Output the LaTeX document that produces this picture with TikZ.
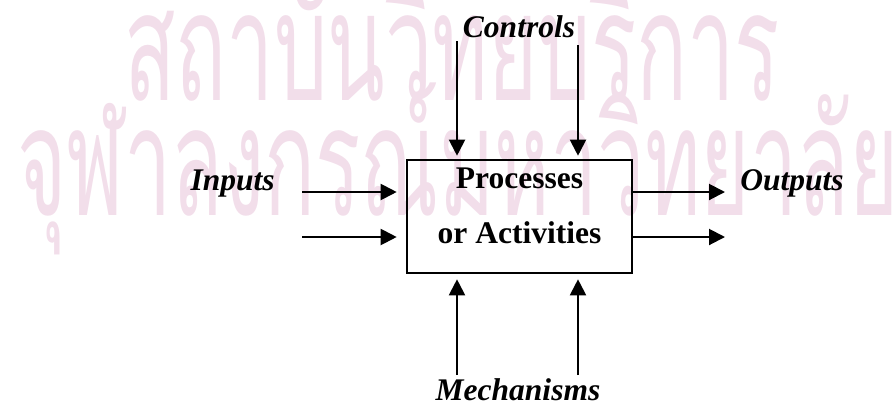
\documentclass[tikz,border=0pt]{standalone}
\usepackage{fontspec}
\setmainfont{Liberation Serif}
\newfontfamily\thaifont[Script=Thai]{Loma}
\usetikzlibrary{arrows.meta}
\definecolor{wmpink}{RGB}{242,222,234}

\tikzset{
  procbox/.style={rectangle, draw=black, line width=1.3pt, minimum width=112.5pt, minimum height=56.5pt},
  flow/.style={-{Triangle[length=8pt,width=8pt]}, line width=1pt},
  lbl/.style={font=\fontsize{15.75}{19}\selectfont\bfseries\itshape, inner sep=0pt},
  wmtext/.style={font=\thaifont\fontsize{62}{70}\selectfont, text=wmpink, inner sep=0pt, xscale=0.68, yscale=1.22}
}

\begin{document}
\begin{tikzpicture}[x=0.5pt, y=-0.5pt]
\useasboundingbox (0,0) rectangle (895,414);

% watermark
\node (wm1) [wmtext, anchor=base west] at (124,100) {สถาบันวิทยบริการ};
\node (wm2) [wmtext, anchor=base west] at (17,215) {จุฬาลงกรณ์มหาวิทยาลัย};

\node (proc) [procbox] at (519.5,216.5) {};
\node (proctext) [font=\fontsize{15.75}{27.5}\selectfont\bfseries, align=center, inner sep=0pt] at ([yshift=5.5pt]proc.center) {Processes\\or Activities};

\node (controls) [lbl, anchor=base] at (519,37) {Controls};
\node (inputs) [lbl, anchor=base east] at (275,190) {Inputs};
\node (outputs) [lbl, anchor=base west] at (740,190) {Outputs};
\node (mechanisms) [lbl, anchor=base] at (518,400) {Mechanisms};

\coordinate (ctlA) at (457,41);
\coordinate (ctlB) at (578,45);
\coordinate (inA) at (302,192);
\coordinate (inB) at (302,237);
\coordinate (outA) at (725,192);
\coordinate (outB) at (725,237);
\coordinate (mechA) at (457,375);
\coordinate (mechB) at (578,375);

\draw[flow, shorten >=1.5pt] (ctlA) -- (ctlA |- proc.north);
\draw[flow, shorten >=1.5pt] (ctlB) -- (ctlB |- proc.north);
\draw[flow, shorten >=4.5pt] (inA) -- (inA -| proc.west);
\draw[flow, shorten >=4.5pt] (inB) -- (inB -| proc.west);
\draw[flow] (outA -| proc.east) -- (outA);
\draw[flow] (outB -| proc.east) -- (outB);
\draw[flow, shorten >=2.5pt] (mechA) -- (mechA |- proc.south);
\draw[flow, shorten >=2.5pt] (mechB) -- (mechB |- proc.south);

\end{tikzpicture}
\end{document}
